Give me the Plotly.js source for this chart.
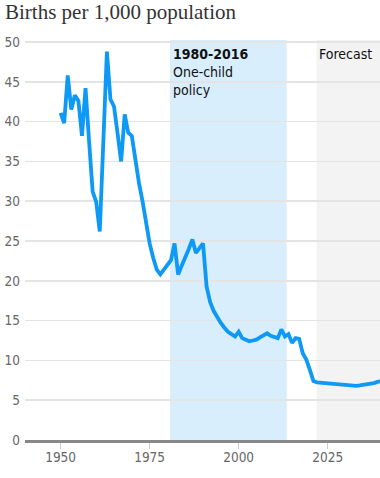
<!DOCTYPE html>
<html>
<head>
<meta charset="utf-8">
<script src="https://cdn.plot.ly/plotly-3.0.1.min.js"></script>
<style>
  html, body { margin: 0; padding: 0; background: #fff; }
  #chart { width: 380px; height: 478px; }
</style>
</head>
<body>
<div id="chart"></div>
<script>
// Historical births per 1,000 population
const histYears = [1950,1951,1952,1953,1954,1955,1956,1957,1958,1959,1960,1961,1962,1963,1964,1965,1966,1967,1968,1969,
  1970,1971,1972,1973,1974,1975,1976,1977,1978,1979,1980,1981,1982,1983,1984,1985,1986,1987,1988,1989,
  1990,1991,1992,1993,1994,1995,1996,1997,1998,1999,2000,2001,2002,2003,2004,2005,2006,2007,2008,2009,
  2010,2011,2012,2013,2014,2015,2016,2017,2018,2019,2020,2021];
const histRate = [41.1,39.8,45.8,41.5,43.3,42.6,38.2,44.2,37.5,31.2,29.9,26.2,37.5,48.8,42.8,41.9,38.5,35.0,40.9,38.6,
  38.2,34.8,32.3,30.0,27.3,24.7,22.9,21.4,20.8,21.4,22.0,22.6,24.7,20.8,21.9,22.9,24.0,25.2,23.5,24.1,
  24.7,19.3,17.3,16.2,15.4,14.7,14.1,13.6,13.3,13.0,13.6,12.8,12.6,12.4,12.5,12.6,12.9,13.2,13.4,13.1,
  12.9,12.8,13.9,13.0,13.3,12.2,12.8,12.7,10.9,10.1,8.8,7.4];
// Forecast
const fcYears = [2022,2023,2024,2025,2026,2027,2028,2029,2030,2031,2032,2033,2034,2035,2036,2037,2038,2039,2040];
const fcRate  = [7.25,7.2,7.15,7.1,7.05,7.0,6.95,6.9,6.85,6.8,6.8,6.8,6.85,6.9,6.95,7.05,7.15,7.3,7.4];

const years = histYears.concat(fcYears);
const rates = histRate.concat(fcRate);

const yTicks = [0,5,10,15,20,25,30,35,40,45,50];
const xTicks = [1950,1975,2000,2025];

const policyStart = 1980.7, policyEnd = 2013.5;
const forecastStart = 2021.9;
const xMin = 1940, xMax = 2039.7;

const tickFont = {family: '"DejaVu Sans Condensed", "Liberation Sans Narrow", sans-serif', size: 13.5, color: '#666'};
const noteFont = {family: '"DejaVu Sans Condensed", "Liberation Sans Narrow", sans-serif', size: 14, color: '#111'};

const trace = {
  x: years, y: rates, type: 'scatter', mode: 'lines',
  line: {color: '#0d99f5', width: 3.8, shape: 'linear'},
  hoverinfo: 'skip'
};

const layout = {
  width: 380, height: 478,
  margin: {l: 25, r: 0, t: 40, b: 38},
  paper_bgcolor: '#fff', plot_bgcolor: '#fff',
  showlegend: false,
  title: {
    text: 'Births per 1,000 population',
    font: {family: '"Liberation Serif", "DejaVu Serif", serif', size: 21, color: '#333'},
    x: 5/380, xref: 'container', xanchor: 'left',
    y: 1 - 12/478, yref: 'container', yanchor: 'middle',
    pad: {t: 0, l: 0, b: 0, r: 0}
  },
  xaxis: {
    range: [xMin, xMax], fixedrange: true,
    tickvals: xTicks, ticktext: xTicks.map(String),
    ticks: 'outside', ticklen: 6, tickcolor: '#ccc', tickwidth: 1,
    ticklabelstandoff: -3,
    showgrid: false, zeroline: false,
    showline: true, linecolor: '#888', linewidth: 2.5,
    tickfont: tickFont
  },
  yaxis: {
    range: [0, 50.25], fixedrange: true,
    tickvals: yTicks, ticktext: yTicks.map(String),
    ticks: '', showgrid: true, gridcolor: '#e4e4e4', gridwidth: 1.5,
    zeroline: false, showline: false,
    ticklabelstandoff: 4,
    tickfont: tickFont
  },
  shapes: [
    {type: 'rect', xref: 'x', yref: 'paper', x0: policyStart, x1: policyEnd, y0: 0, y1: 1,
     fillcolor: '#d8eefc', line: {width: 0}, layer: 'below'},
    {type: 'rect', xref: 'x', yref: 'paper', x0: forecastStart, x1: xMax, y0: 0, y1: 1,
     fillcolor: '#f3f3f3', line: {width: 0}, layer: 'below'}
  ],
  annotations: [
    {xref: 'x', yref: 'paper', x: policyStart, y: 1, xanchor: 'left', yanchor: 'top',
     xshift: 1, yshift: -4, align: 'left', showarrow: false,
     text: '<b>1980-2016</b><br>One-child<br>policy', font: noteFont},
    {xref: 'x', yref: 'paper', x: forecastStart, y: 1, xanchor: 'left', yanchor: 'top',
     xshift: 0, yshift: -4, align: 'left', showarrow: false,
     text: 'Forecast', font: noteFont}
  ]
};

Plotly.newPlot('chart', [trace], layout, {staticPlot: true, displayModeBar: false});
</script>
</body>
</html>
